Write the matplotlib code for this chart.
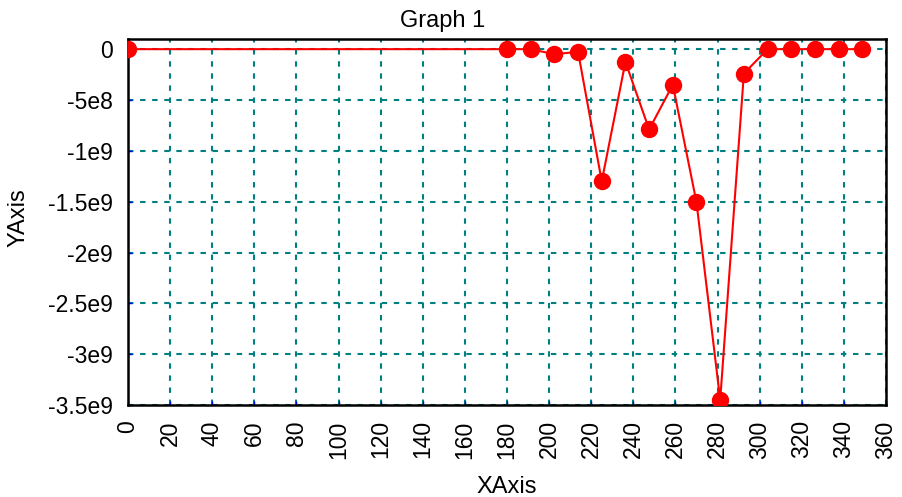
import matplotlib
matplotlib.use("Agg")
import matplotlib.pyplot as plt

x_values = [0, 180, 191.25, 202.5, 213.75, 225, 236.25, 247.5, 258.75, 270,
            281.25, 292.5, 303.75, 315, 326.25, 337.5, 348.75]
y_values = [0, 0, 0, -0.05e9, -0.026e9, -1.30e9, -0.125e9, -0.79e9, -0.35e9,
            -1.507e9, -3.45e9, -0.24e9, 0, 0, 0, 0, 0]
x_ticks = list(range(0, 361, 20))
y_ticks = [0, -5e8, -1e9, -1.5e9, -2e9, -2.5e9, -3e9, -3.5e9]
y_tick_labels = ["0", "-5e8", "-1e9", "-1.5e9", "-2e9", "-2.5e9", "-3e9", "-3.5e9"]

plt.rcParams['font.family'] = ['Liberation Sans', 'DejaVu Sans']

W, H = 903, 497
fig = plt.figure(figsize=(W / 100, H / 100), dpi=100)
ax = fig.add_axes([128 / W, 1 - 405 / H, (886 - 128) / W, (405 - 39) / H])

ax.plot(x_values, y_values, color='#ff0000', linewidth=1.5, marker='o',
        markersize=11.5, markerfacecolor='#ff0000', markeredgecolor='#ff0000',
        clip_on=True, zorder=3)

ax.set_xlim(0, 360)
ax.set_ylim(-3.5e9, 0.1e9)
ax.set_xticks(x_ticks)
ax.set_xticklabels([str(v) for v in x_ticks], rotation=90, fontsize=16.5)
ax.set_yticks(y_ticks)
ax.set_yticklabels(y_tick_labels, fontsize=16.5)
ax.tick_params(axis='both', direction='in', length=3, width=1, color='#0000ff',
               pad=11, labelcolor='#000000')

ax.grid(True, color='#008080', linestyle=(0, (2.6, 3.2)), linewidth=1.5)
for sp in ax.spines.values():
    sp.set_linewidth(1.8)
    sp.set_color('#000000')

fig.text(443 / W, 1 - 27 / H, "Graph 1", ha='center', va='baseline', fontsize=17)
fig.text(507 / W, 1 - 493 / H, "XAxis", ha='center', va='baseline', fontsize=17)
fig.text(19 / W, 1 - 218 / H, "YAxis", ha='center', va='center', rotation=90, fontsize=17)

fig.savefig("out.png", dpi=100)
